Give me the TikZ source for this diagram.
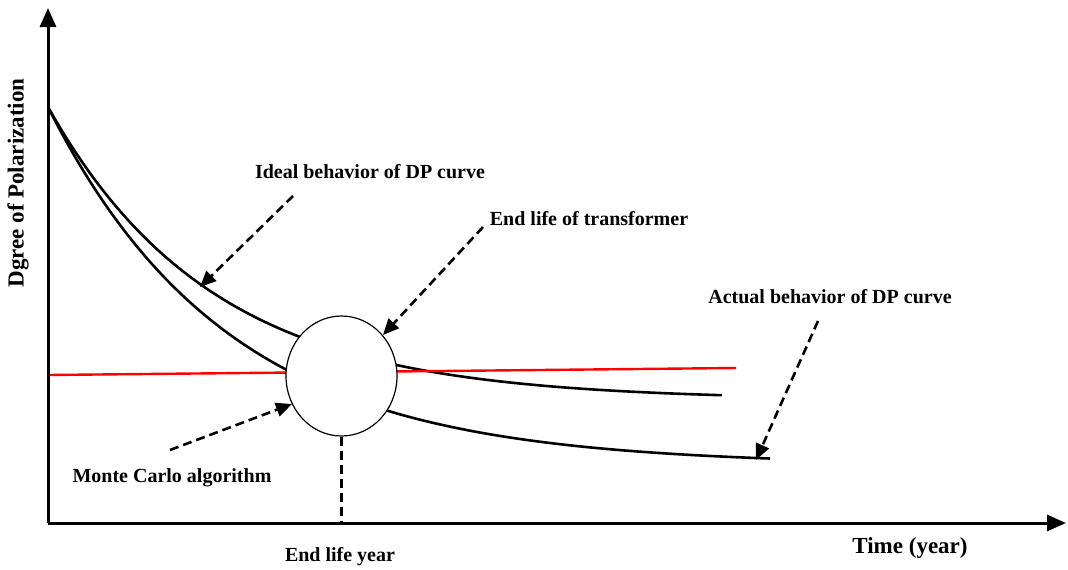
\documentclass[tikz,border=0pt]{standalone}
\usepackage{fontspec}
\setmainfont{Liberation Serif}
\usetikzlibrary{arrows.meta,shapes.geometric}
\begin{document}
\begin{tikzpicture}[x=1pt,y=-1pt,
  lbl/.style={font=\fontsize{20}{22}\selectfont\bfseries, inner sep=0pt},
  axis/.style={line width=3pt, -{Triangle[length=19pt,width=16pt]}},
  curve/.style={line width=2.6pt},
  ptr/.style={line width=2.6pt, dash pattern=on 9pt off 5pt, -{Triangle[length=16pt,width=14pt]}}]
\useasboundingbox (0,0) rectangle (1068,570);
% coordinates
\coordinate (O) at (48,523);
\coordinate (ytop) at (48,8);
\coordinate (xend) at (1066,523);
% curves
\draw[curve] plot[domain=48:722, samples=120] (\x, {400-293*exp(-(\x-48)/164)});
\draw[curve] plot[domain=48:770, samples=120] (\x, {465-358*exp(-(\x-48)/180)});
\draw[red, line width=2.4pt] (48,375) coordinate (r1) -- (736,368) coordinate (r2);
% circle
\node[ellipse, draw, line width=1.2pt, fill=white, minimum width=111pt, minimum height=120pt, inner sep=0pt] (circ) at (341.5,376) {};
\coordinate (foot) at (341.5,523);
\draw[line width=2.6pt, dash pattern=on 9pt off 5pt] (circ.south) -- (foot);
% axes
\draw[axis] (O) -- (ytop);
\draw[axis] (O) -- (xend);
% labels
\node[lbl, font=\fontsize{23}{25}\selectfont\bfseries, rotate=90] (ylab) at (18,183) {Dgree of Polarization};
\node[lbl] (ideal) at (370,172) {Ideal behavior of DP curve};
\node[lbl] (endlife) at (589,219) {End life of transformer};
\node[lbl] (actual) at (830,297) {Actual behavior of DP curve};
\node[lbl] (monte) at (172,478) {Monte Carlo algorithm};
\node[lbl] (eyear) at (340,557) {End life year};
\node[lbl, font=\fontsize{23}{25}\selectfont\bfseries] (time) at (910,548) {Time (year)};
% pointers
\coordinate (p1s) at (293,196);
\coordinate (p1e) at (200,287);
\coordinate (p2s) at (483,227);
\coordinate (p2e) at (383,335);
\coordinate (p3s) at (818,321);
\coordinate (p3e) at (756,460);
\coordinate (p4s) at (170,450);
\coordinate (p4e) at (292,404);
\draw[ptr] (p1s) -- (p1e);
\draw[ptr] (p2s) -- (p2e);
\draw[ptr] (p3s) -- (p3e);
\draw[ptr] (p4s) -- (p4e);
\end{tikzpicture}
\end{document}
